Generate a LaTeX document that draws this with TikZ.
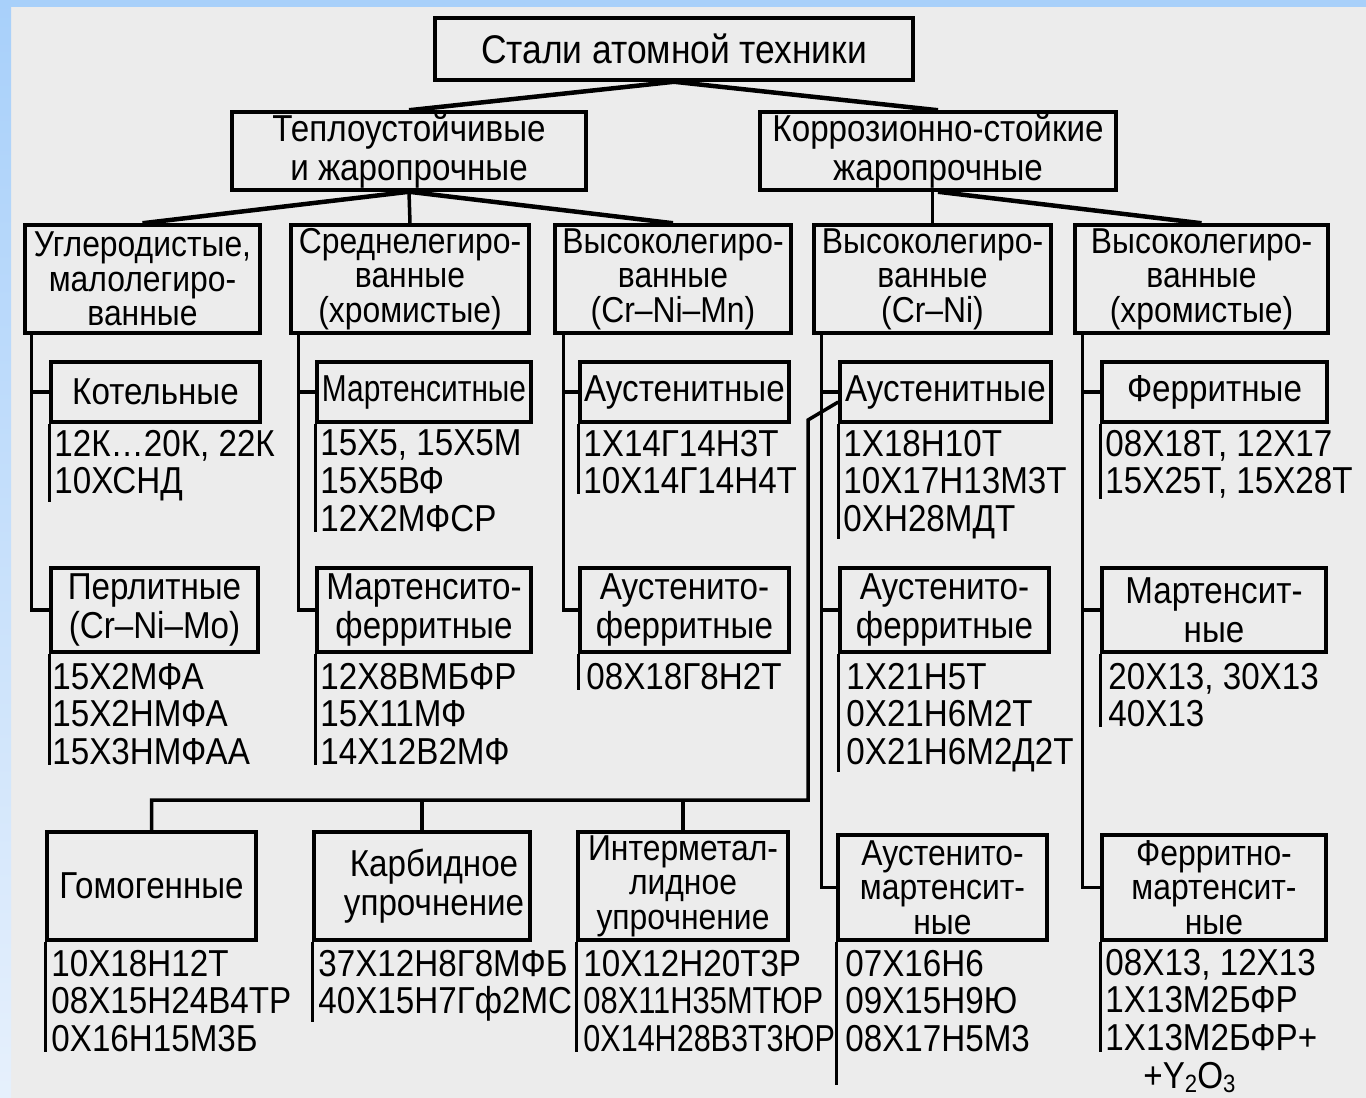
\documentclass[tikz,border=0pt]{standalone}
\usepackage{fontspec}
\setmainfont{Liberation Sans}[FakeStretch=0.885]
\usetikzlibrary{positioning, calc}

\definecolor{paper}{RGB}{236,236,236}
\definecolor{frameblue}{RGB}{168,208,250}
\definecolor{framepale}{RGB}{230,240,252}
\newcommand{\boxfont}{\fontsize{36}{34.5}\selectfont}
\newcommand{\tallfont}{\fontsize{37.5}{39}\selectfont}
\newcommand{\lstfont}{\fontsize{37.5}{37.7}\selectfont}
\newcommand{\lowidx}[1]{\raisebox{-4pt}{\fontsize{25}{25}\selectfont #1}}

\begin{document}
\begin{tikzpicture}[x=1pt, y=-1pt]
\tikzstyle{grp} = [draw, line width=3.5pt, inner sep=0pt, align=center, font=\boxfont]
\tikzstyle{tri} = [grp, minimum height=108pt]
\tikzstyle{sub} = [grp, font=\lstfont, minimum height=60pt]
\tikzstyle{pair} = [grp, font=\tallfont, minimum height=84pt]
\tikzstyle{lst} = [anchor=north west, inner sep=0pt, align=left, font=\lstfont]
\tikzstyle{link} = [line width=3.5pt]
\tikzstyle{tie} = [line width=4.5pt]

\useasboundingbox (0,0) rectangle (1366,1098);
\fill[paper] (0,0) rectangle (1366,1098);
\fill[frameblue] (0,0) rectangle (1366,7);
\shade[top color=frameblue, bottom color=framepale] (0,0) rectangle (11,1098);

% top levels
\node[grp, font=\fontsize{40}{40}\selectfont, minimum width=478pt, minimum height=62pt] (root) at (674,49) {Стали атомной техники};
\node[grp, font=\tallfont, minimum width=354pt, minimum height=78pt] (heat) at (409,151) {Теплоустойчивые\\и жаропрочные};
\node[grp, font=\tallfont, minimum width=356pt, minimum height=78pt] (corr) at (938,151) {Коррозионно-стойкие\\жаропрочные};

\node[tri, minimum width=235pt] (carb) at (142.5,279) {Углеродистые,\\малолегиро-\\ванные};
\node[tri, minimum width=238pt] (mid) at (410,279) {Среднелегиро-\\ванные\\(хромистые)};
\node[tri, minimum width=236pt] (crnimn) at (673,279) {Высоколегиро-\\ванные\\(Cr–Ni–Mn)};
\node[tri, minimum width=237pt] (crni) at (932.5,279) {Высоколегиро-\\ванные\\(Cr–Ni)};
\node[tri, minimum width=253pt] (chrom) at (1201.5,279) {Высоколегиро-\\ванные\\(хромистые)};

% structure classes
\node[sub, minimum width=209pt] (boiler) at (155.5,392) {Котельные};
\node[sub, minimum width=214pt] (mart) at (424,392) {\scalebox{0.9}[1]{Мартенситные}};
\node[sub, minimum width=209pt] (aust3) at (684.5,392) {Аустенитные};
\node[sub, minimum width=211pt] (aust4) at (945.5,392) {Аустенитные};
\node[sub, minimum width=225pt] (ferr) at (1214.5,392) {Ферритные};

\node[pair, minimum width=207pt] (pearl) at (154.5,610) {Перлитные\\(Cr–Ni–Mo)};
\node[pair, minimum width=214pt] (martf) at (424,610) {Мартенсито-\\ферритные};
\node[pair, minimum width=209pt] (austf3) at (684.5,610) {Аустенито-\\ферритные};
\node[pair, minimum width=209pt] (austf4) at (944.5,610) {Аустенито-\\ферритные};
\node[pair, minimum width=224pt] (mart5) at (1214,610) {Мартенсит-\\ные};

\node[tri, font=\lstfont, minimum width=209pt] (homog) at (151.5,886) {Гомогенные};
\node[tri, font=\tallfont, minimum width=216pt] (carbide) at (422,886) {\hspace*{24pt}Карбидное\\\hspace*{24pt}упрочнение};
\node[tri, minimum width=210pt] (intermet) at (683,886) {Интерметал-\\лидное\\упрочнение};
\node[tri, minimum width=209pt, minimum height=105pt] (austm) at (942.5,887.5) {Аустенито-\\мартенсит-\\ные};
\node[tri, minimum width=224pt, minimum height=105pt] (ferrm) at (1214,887.5) {Ферритно-\\мартенсит-\\ные};

% grades
\node[lst] (boilerl) at ([shift={(5,6)}]boiler.south west) {12К…20К, 22К\\10ХСНД};
\node[lst] (martl) at ([shift={(5,6)}]mart.south west) {15Х5, 15Х5М\\15Х5ВФ\\12Х2МФСР};
\node[lst] (aust3l) at ([shift={(5,6)}]aust3.south west) {1Х14Г14Н3Т\\10Х14Г14Н4Т};
\node[lst] (aust4l) at ([shift={(5,6)}]aust4.south west) {1Х18Н10Т\\10Х17Н13М3Т\\0ХН28МДТ};
\node[lst] (ferrl) at ([shift={(5,6)}]ferr.south west) {08Х18Т, 12Х17\\15Х25Т, 15Х28Т};
\node[lst] (pearll) at ([shift={(3,9)}]pearl.south west) {15Х2МФА\\15Х2НМФА\\15Х3НМФАА};
\node[lst] (martfl) at ([shift={(5,9)}]martf.south west) {12Х8ВМБФР\\15Х11МФ\\14Х12В2МФ};
\node[lst] (austf3l) at ([shift={(8,9)}]austf3.south west) {08Х18Г8Н2Т};
\node[lst] (austf4l) at ([shift={(8,9)}]austf4.south west) {1Х21Н5Т\\0Х21Н6М2Т\\0Х21Н6М2Д2Т};
\node[lst] (mart5l) at ([shift={(8,9)}]mart5.south west) {20Х13, 30Х13\\40Х13};
\node[lst] (homogl) at ([shift={(6,8)}]homog.south west) {10Х18Н12Т\\08Х15Н24В4ТР\\0Х16Н15М3Б};
\node[lst] (carbidel) at ([shift={(6,8)}]carbide.south west) {37Х12Н8Г8МФБ\\40Х15Н7Гф2МС};
\node[lst] (intermetl) at ([shift={(7,8)}]intermet.south west) {10Х12Н20Т3Р\\\scalebox{0.93}[1]{08Х11Н35МТЮР}\\\scalebox{0.92}[1]{0Х14Н28В3Т3ЮР}};
\node[lst] (austml) at ([shift={(9,8)}]austm.south west) {07Х16Н6\\09Х15Н9Ю\\08Х17Н5М3};
\node[lst] (ferrml) at ([shift={(5,7)}]ferrm.south west) {08Х13, 12Х13\\1Х13М2БФР\\1Х13М2БФР+\\\hspace*{38pt}+Y\lowidx{2}O\lowidx{3}};

\foreach \b in {boiler, mart, aust3, aust4, ferr, pearl, martf, austf3, austf4, mart5, homog, carbide, intermet}
  \draw[link] (\b.south west) -- (\b.south west |- \b l.south);
\draw[link] (austm.south west) -- ++(0,143);
\draw[link] (ferrm.south west) -- ++(0,110);

% tree
\draw[tie] (root.south) -- (heat.north);
\draw[tie] (root.south) -- (corr.north);
\draw[tie] (heat.south) -- (carb.north);
\draw[link] (heat.south) -- (mid.north);
\draw[tie] (heat.south) -- (crnimn.north);
\draw[link] (crni.north |- corr.south) -- (crni.north);
\draw[tie] (corr.south) -- (chrom.north);

\coordinate (s1) at ([xshift=8pt]carb.south west);
\coordinate (s2) at ([xshift=9pt]mid.south west);
\coordinate (s3) at ([xshift=10pt]crnimn.south west);
\coordinate (s4) at ([xshift=9pt]crni.south west);
\coordinate (s5) at ([xshift=9pt]chrom.south west);
\draw[link] (s1) |- (pearl.west);
\draw[link] (s1 |- boiler.west) -- (boiler.west);
\draw[link] (s2) |- (martf.west);
\draw[link] (s2 |- mart.west) -- (mart.west);
\draw[link] (s3) |- (austf3.west);
\draw[link] (s3 |- aust3.west) -- (aust3.west);
\draw[link] (s4) |- (austm.west);
\draw[link] (s4 |- aust4.west) -- (aust4.west);
\draw[link] (s4 |- austf4.west) -- (austf4.west);
\draw[link] (s5) |- (ferrm.west);
\draw[link] (s5 |- ferr.west) -- (ferr.west);
\draw[link] (s5 |- mart5.west) -- (mart5.west);

% rail to the strengthening groups
\coordinate (r0) at ([yshift=-10pt]aust4.west);
\coordinate (bend) at (808,420);
\coordinate (rail) at (808,800);
\draw[link] (r0) -- (bend) -- (rail) -| (homog.north);
\draw[link] (carbide.north) -- (carbide.north |- rail);
\draw[link] (intermet.north) -- (intermet.north |- rail);
\end{tikzpicture}
\end{document}
